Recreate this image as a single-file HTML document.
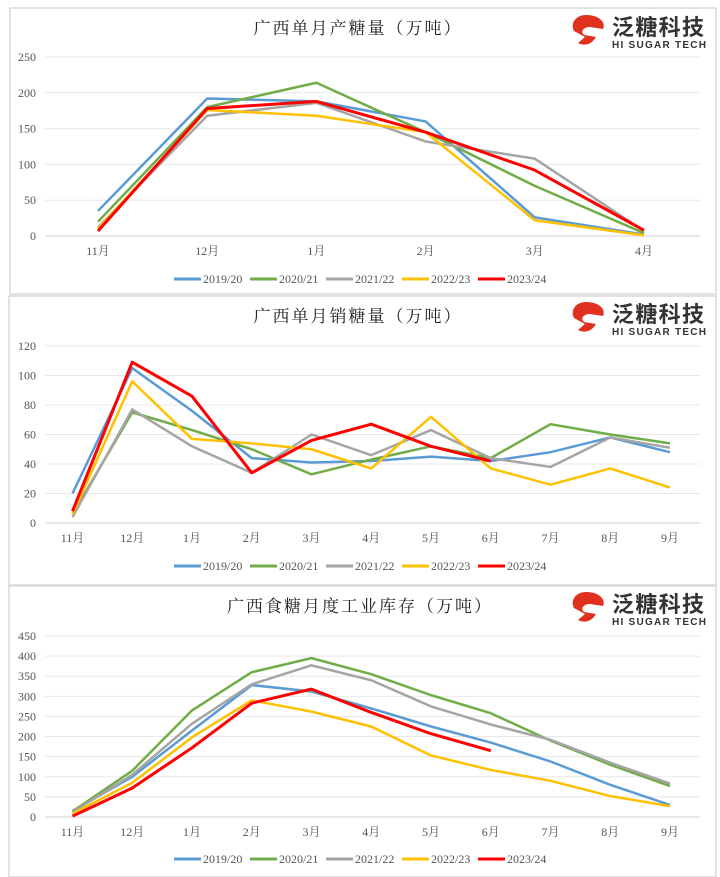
<!DOCTYPE html>
<html><head><meta charset="utf-8"><style>
html,body{margin:0;padding:0;background:#fff;}
svg{display:block;}
</style></head><body>
<svg id="s" width="720" height="877" xmlns="http://www.w3.org/2000/svg" font-family="'Liberation Serif','Noto Serif CJK SC',serif"></svg>
<script>
const s=document.getElementById('s');
let h='';
const cols=['#5b9bd5','#70ad47','#a5a5a5','#ffc000','#ff0000'];
const names=['2019/20','2020/21','2021/22','2022/23','2023/24'];
function logo(y){
  return `<g transform="translate(0,${y})">
  <path d="M586 0 C600 0 606 8 603 14 L590 12 C584 12 580 16 584 20 L596 22 C590 32 582 30 578 28 L585 22 L574 16 C570 8 576 0 586 0Z" fill="#e0301e"/>
  <text x="612" y="20" font-family="'Liberation Sans','Noto Sans CJK SC',sans-serif" font-size="22" font-weight="bold" fill="#333" textLength="92">泛糖科技</text>
  <text x="612" y="33" font-family="'Liberation Sans',sans-serif" font-size="10" font-weight="bold" fill="#333" textLength="94">HI SUGAR TECH</text></g>`;
}
function chart(o){
  h+=`<rect x="${o.px}" y="${o.py}" width="${o.pw}" height="${o.ph}" fill="#fff" stroke="#d9d9d9" stroke-width="1.5"/>`;
  h+=`<text x="${o.tx}" y="${o.ty}" font-size="17" text-anchor="middle" fill="#222" letter-spacing="2">${o.title}</text>`;
  h+=logo(o.ly);
  const n=o.ticks;
  for(let i=0;i<=n;i++){
    const v=o.max*i/n, y=o.y0+(o.ymax-o.y0)*i/n;
    h+=`<line x1="45" x2="700" y1="${y}" y2="${y}" stroke="${i==0?'#d0d0d0':'#e8e8e8'}" stroke-width="1"/>`;
    h+=`<text x="36" y="${y+4}" font-size="12" text-anchor="end" fill="#555">${v}</text>`;
  }
  o.labels.forEach((l,i)=>{h+=`<text x="${o.x0+o.dx*i}" y="${o.y0+19}" font-size="12" text-anchor="middle" fill="#555">${l}</text>`;});
  o.data.forEach((d,k)=>{
    const pts=d.map((v,i)=>`${o.x0+o.dx*i},${o.y0+(o.ymax-o.y0)*v/o.max}`).join(' ');
    h+=`<polyline points="${pts}" fill="none" stroke="${cols[k]}" stroke-width="${k==4?3:2.5}" stroke-linejoin="round"/>`;
  });
  names.forEach((nm,k)=>{
    const x=174+k*76;
    h+=`<line x1="${x}" x2="${x+27}" y1="${o.leg}" y2="${o.leg}" stroke="${cols[k]}" stroke-width="3"/>`;
    h+=`<text x="${x+29}" y="${o.leg+4}" font-size="12" fill="#555">${nm}</text>`;
  });
}
chart({px:10,py:8,pw:706,ph:286,tx:358,ty:34,title:'广西单月产糖量（万吨）',ly:15,ticks:5,max:250,y0:236,ymax:57,
 x0:98,dx:109.2,labels:['11月','12月','1月','2月','3月','4月'],leg:279,
 data:[[35,192,188,160,26,2],[20,180,214,145,70,4],[12,168,186,132,108,7],[10,176,168,145,22,1],[7,178,188,145,92,8]]});
const m=['11月','12月','1月','2月','3月','4月','5月','6月','7月','8月','9月'];
chart({px:9,py:296,pw:707,ph:289,tx:358,ty:322,title:'广西单月销糖量（万吨）',ly:302,ticks:6,max:120,y0:523,ymax:346,
 x0:72.5,dx:59.75,labels:m,leg:566,
 data:[[20,105,76,44,41,42,45,42,48,58,48],[6,75,63,50,33,43,52,44,67,60,54],[4,77,52,34,60,46,63,44,38,58,51],[6,96,57,54,50,37,72,37,26,37,24],[8,109,86,34,56,67,52,42]]});
chart({px:9,py:586,pw:707,ph:291,tx:360,ty:612,title:'广西食糖月度工业库存（万吨）',ly:592,ticks:9,max:450,y0:817,ymax:636,
 x0:72.5,dx:59.75,labels:m,leg:859,
 data:[[15,100,215,328,312,270,225,185,138,80,30],[14,115,265,360,395,355,303,258,190,130,77],[12,105,232,330,377,340,275,230,192,135,83],[8,85,198,290,262,225,153,117,90,52,27],[2,72,172,283,318,260,207,165]]});
s.innerHTML=h;
</script>
</body></html>
